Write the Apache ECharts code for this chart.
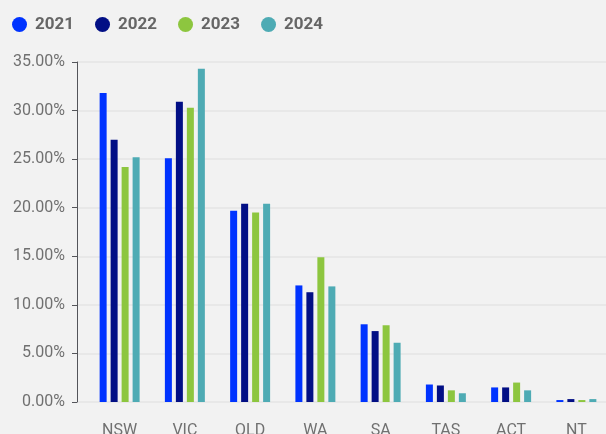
<!DOCTYPE html>
<html>
<head>
<meta charset="utf-8">
<script src="https://cdn.jsdelivr.net/npm/echarts@6/dist/echarts.min.js"></script>
<style>
  html, body { margin: 0; padding: 0; background: #f2f2f2; }
  #chart { width: 606px; height: 434px; }
</style>
</head>
<body>
<div id="chart"></div>
<script>
// share of total (%) by state, per year
const states = ['NSW', 'VIC', 'QLD', 'WA', 'SA', 'TAS', 'ACT', 'NT'];
const years = ['2021', '2022', '2023', '2024'];
const v2021 = [31.8, 25.1, 19.7, 12.0, 8.0, 1.8, 1.5, 0.2];
const v2022 = [27.0, 30.9, 20.4, 11.3, 7.3, 1.7, 1.5, 0.3];
const v2023 = [24.2, 30.3, 19.5, 14.9, 7.9, 1.2, 2.0, 0.2];
const v2024 = [25.2, 34.3, 20.4, 11.9, 6.1, 0.9, 1.2, 0.3];
const colors = ['#0033ff', '#020f85', '#8dc63f', '#4eabb4'];

const chart = echarts.init(document.getElementById('chart'));
const seriesData = [v2021, v2022, v2023, v2024];

chart.setOption({
    backgroundColor: '#f2f2f2',
    color: colors,
    textStyle: { fontFamily: 'Roboto' },
    legend: {
        left: 7, top: 11,
        icon: 'circle',
        itemWidth: 15, itemHeight: 15, itemGap: 21,
        textStyle: { fontSize: 17, fontWeight: 'bold', color: '#666', padding: [0, 0, 0, 3] },
        data: years
    },
    // grid 0 holds the bars; grid 1 only draws the split lines a bit further left
    grid: [
        { left: 87, right: -3, top: 62, bottom: 32, outerBoundsMode: 'none', containLabel: false },
        { left: 77, right: 0, top: 62, bottom: 32, outerBoundsMode: 'none', containLabel: false }
    ],
    xAxis: [
        {
            type: 'category', gridIndex: 0,
            data: states,
            axisLine: { show: false },
            axisTick: { show: false },
            axisLabel: { fontSize: 16, color: '#707070', margin: 21 }
        },
        { type: 'value', gridIndex: 1, show: false, min: 0, max: 1 }
    ],
    yAxis: [
        {
            type: 'value', gridIndex: 0,
            min: 0, max: 35, interval: 5,
            axisLabel: {
                fontSize: 16, color: '#707070', margin: 22,
                formatter: v => v.toFixed(2) + '%'
            },
            splitLine: { show: false },
            z: 3
        },
        {
            type: 'value', gridIndex: 1,
            min: 0, max: 35, interval: 5,
            axisLabel: { show: false },
            splitLine: { lineStyle: { color: '#e4e4e4', width: 1.5 } },
            z: 0
        }
    ],
    series: years.map((y, i) => ({
        name: y,
        type: 'bar',
        xAxisIndex: 0, yAxisIndex: 0,
        data: seriesData[i],
        barWidth: 7,
        barGap: '57%',
        barCategoryGap: '38%'
    }))
});
</script>
</body>
</html>
